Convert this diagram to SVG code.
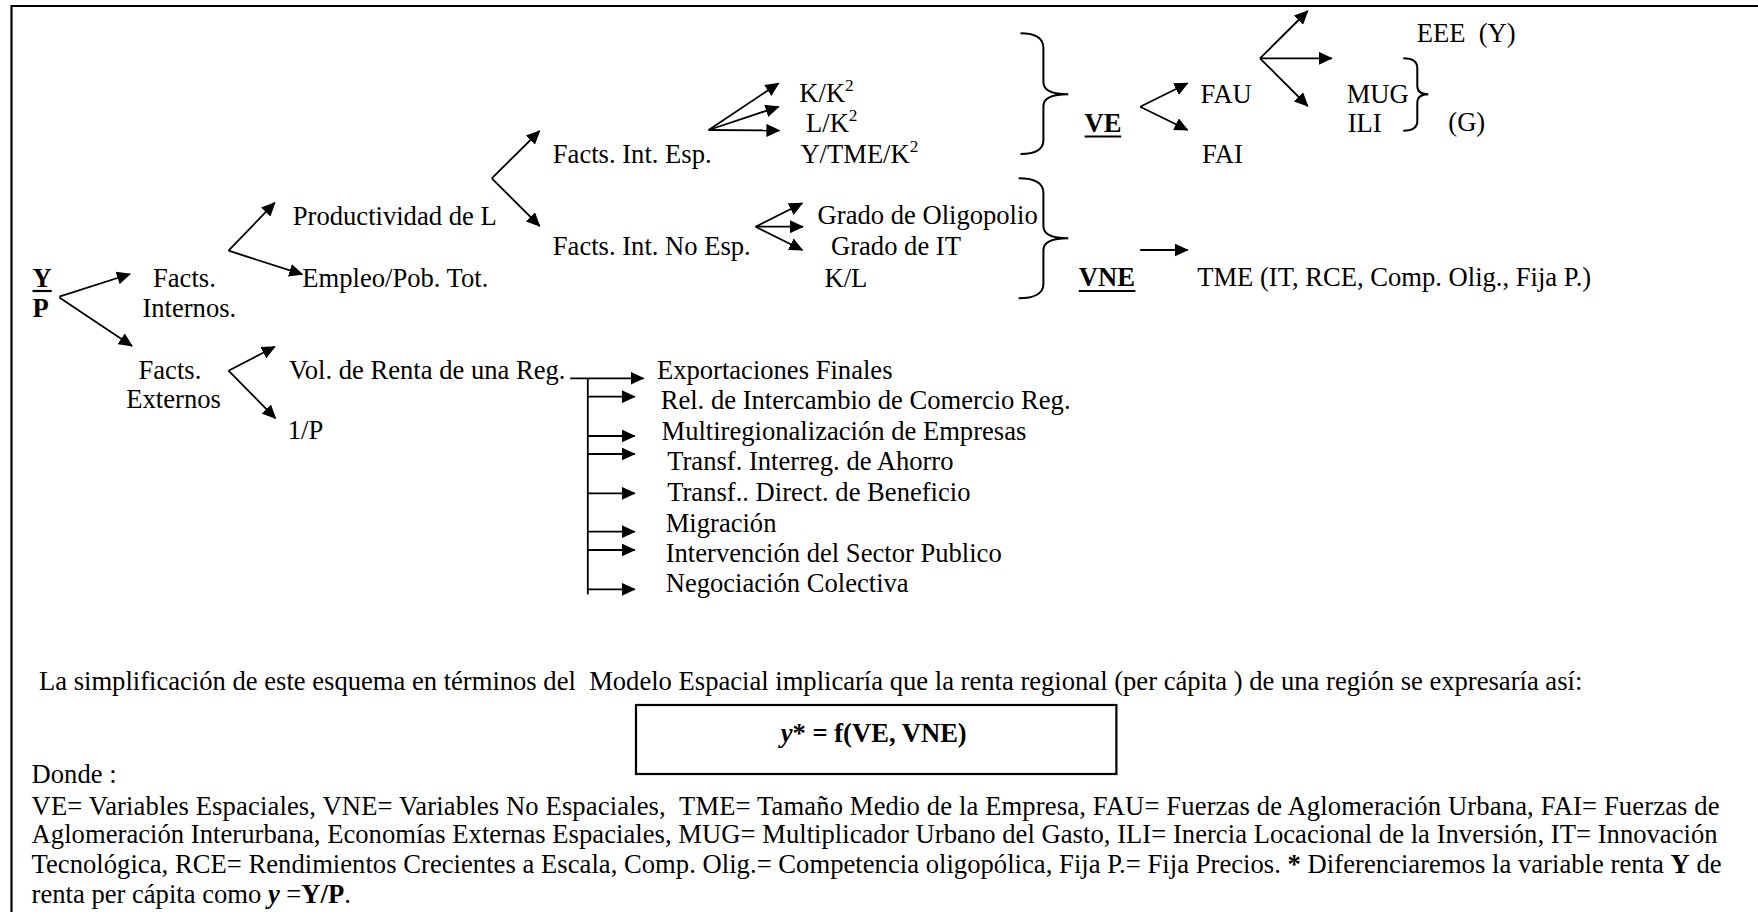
<svg xmlns="http://www.w3.org/2000/svg" width="1758" height="912" viewBox="0 0 1758 912">
<style>
text{font-family:"Liberation Serif","Times New Roman",serif;font-size:26.6px;fill:#000}
.b{font-weight:bold}
.bi{font-weight:bold;font-style:italic}
.sup{font-size:17.3px}
.c line,.c path{stroke:#000;stroke-width:1.8;fill:none}
.arr{marker-end:url(#ah)}
.brace{stroke:#000;stroke-width:2;fill:none}
.ul{stroke:#000;stroke-width:2.2}
</style>
<defs>
<marker id="ah" viewBox="0 0 14 13" refX="13" refY="6.5" markerWidth="14" markerHeight="13" markerUnits="userSpaceOnUse" orient="auto"><path d="M0,0 L14,6.5 L0,13 z" fill="#000"/></marker>
</defs>
<rect x="0" y="0" width="1758" height="912" fill="#fff"/>
<path d="M11.5,912 V6 H1758" stroke="#000" stroke-width="2.2" fill="none"/>

<g id="n-yp"><text class="b" x="32.5" y="287.3">Y</text><line class="ul" x1="32.5" y1="291" x2="51.7" y2="291"/><text class="b" x="32.5" y="316.7">P</text></g>
<g id="n-internos"><text x="153" y="287.3">Facts.</text><text x="142.4" y="316.7">Internos.</text></g>
<g id="n-externos"><text x="138.5" y="379.3">Facts.</text><text x="126.3" y="408.3">Externos</text></g>
<g id="n-prod"><text x="292.8" y="225">Productividad de L</text></g>
<g id="n-empleo"><text x="302.3" y="287.3">Empleo/Pob. Tot.</text></g>
<g id="n-fie"><text x="552.8" y="163.3">Facts. Int. Esp.</text></g>
<g id="n-fine"><text x="552.8" y="255">Facts. Int. No Esp.</text></g>
<g id="n-kk"><text x="799.3" y="101.7">K/K<tspan class="sup" dy="-11">2</tspan></text></g>
<g id="n-lk"><text x="806" y="132.3">L/K<tspan class="sup" dy="-11">2</tspan></text></g>
<g id="n-ytme"><text x="800.4" y="163.3">Y/TME/K<tspan class="sup" dy="-11">2</tspan></text></g>
<g id="n-oligo"><text x="817.6" y="224">Grado de Oligopolio</text></g>
<g id="n-it"><text x="831" y="255">Grado de IT</text></g>
<g id="n-kl"><text x="824.5" y="286.7">K/L</text></g>
<g id="n-ve"><text class="b" x="1084.6" y="131.7">VE</text><line class="ul" x1="1084.6" y1="136.5" x2="1121.2" y2="136.5"/></g>
<g id="n-vne"><text class="b" x="1078.8" y="286">VNE</text><line class="ul" x1="1078.8" y1="291" x2="1135.4" y2="291"/></g>
<g id="n-fau"><text x="1200.6" y="102.7">FAU</text></g>
<g id="n-fai"><text x="1202" y="163.3">FAI</text></g>
<g id="n-eee"><text x="1416.7" y="41.7" xml:space="preserve">EEE  (Y)</text></g>
<g id="n-mug"><text x="1346.7" y="102.7">MUG</text></g>
<g id="n-ili"><text x="1347.7" y="131.7">ILI</text></g>
<g id="n-g"><text x="1448.3" y="131">(G)</text></g>
<g id="n-tme"><text x="1197.2" y="286">TME (IT, RCE, Comp. Olig., Fija P.)</text></g>
<g id="n-vol"><text x="289" y="379.3">Vol. de Renta de una Reg.</text></g>
<g id="n-1p"><text x="287.8" y="439.3">1/P</text></g>
<g id="n-list">
<text x="656.9" y="379.3">Exportaciones Finales</text>
<text x="660.7" y="409">Rel. de Intercambio de Comercio Reg.</text>
<text x="661.5" y="440">Multiregionalización de Empresas</text>
<text x="667.2" y="470">Transf. Interreg. de Ahorro</text>
<text x="667.2" y="501">Transf.. Direct. de Beneficio</text>
<text x="665.7" y="531.7">Migración</text>
<text x="665.7" y="561.7">Intervención del Sector Publico</text>
<text x="665.7" y="592.3">Negociación Colectiva</text>
</g>

<g id="braces">
<path class="brace" d="M1020.5,33.3 C1034,33.3 1043.4,37 1043.4,48 V82 C1043.4,90 1052,94.3 1068.3,94.3 C1052,94.3 1043.4,98 1043.4,106 V140 C1043.4,150 1034,154 1020.5,154"/>
<path class="brace" d="M1018.6,178.3 C1033,178.3 1043.4,182 1043.4,193 V226 C1043.4,234 1052,238.3 1068.3,238.3 C1052,238.3 1043.4,242 1043.4,250 V284 C1043.4,294 1033,298.3 1018.6,298.3"/>
<path class="brace" d="M1403.3,58.3 C1411,58.3 1417.3,61 1417.3,68 V86 C1417.3,91 1421,94.3 1428.3,94.3 C1421,94.3 1417.3,97 1417.3,103 V121 C1417.3,128 1411,130.7 1403.3,130.7"/>
</g>

<g id="connectors" class="c">
<line class="arr" x1="59.3" y1="296.7" x2="130" y2="274"/>
<line class="arr" x1="59.3" y1="297.5" x2="132" y2="346"/>
<line class="arr" x1="228.5" y1="250.7" x2="274.8" y2="202.7"/>
<line class="arr" x1="228.5" y1="250.7" x2="302.3" y2="274.3"/>
<line class="arr" x1="491.8" y1="178.3" x2="539.6" y2="131"/>
<line class="arr" x1="491.8" y1="178.3" x2="539.6" y2="226"/>
<line class="arr" x1="708.6" y1="130" x2="778.6" y2="83.3"/>
<line class="arr" x1="708.6" y1="130" x2="778.6" y2="106.7"/>
<line class="arr" x1="708.6" y1="130" x2="779.4" y2="130.5"/>
<line class="arr" x1="755.6" y1="226.7" x2="802.3" y2="203.3"/>
<line class="arr" x1="755.6" y1="226.7" x2="803" y2="226.7"/>
<line class="arr" x1="755.6" y1="226.7" x2="802.3" y2="250"/>
<line class="arr" x1="1140.2" y1="106.7" x2="1187.6" y2="83.3"/>
<line class="arr" x1="1140.2" y1="106.7" x2="1187.6" y2="130"/>
<line class="arr" x1="1260" y1="58.3" x2="1307.7" y2="11"/>
<line class="arr" x1="1260" y1="58.3" x2="1331.7" y2="58.3"/>
<line class="arr" x1="1260" y1="58.3" x2="1307.7" y2="106"/>
<line class="arr" x1="1140.2" y1="250" x2="1187.6" y2="250"/>
<line class="arr" x1="228.5" y1="370.7" x2="274.8" y2="346.7"/>
<line class="arr" x1="228.5" y1="370.7" x2="275.5" y2="418.3"/>
<line class="arr" x1="570.2" y1="378.3" x2="643.5" y2="378.3"/>
<line x1="587.8" y1="378.3" x2="587.8" y2="594.5"/>
<line class="arr" x1="587.8" y1="396.7" x2="634.7" y2="396.7"/>
<line class="arr" x1="587.8" y1="436" x2="634.7" y2="436"/>
<line class="arr" x1="587.8" y1="454" x2="634.7" y2="454"/>
<line class="arr" x1="587.8" y1="493.3" x2="634.7" y2="493.3"/>
<line class="arr" x1="587.8" y1="531.7" x2="634.7" y2="531.7"/>
<line class="arr" x1="587.8" y1="550" x2="634.7" y2="550"/>
<line class="arr" x1="587.8" y1="589.3" x2="634.7" y2="589.3"/>
</g>

<g id="notes">
<text x="39" y="690" xml:space="preserve">La simplificación de este esquema en términos del  Modelo Espacial implicaría que la renta regional (per cápita ) de una región se expresaría así:</text>
<rect x="636" y="705" width="480.4" height="69" fill="none" stroke="#000" stroke-width="2.2"/>
<text class="b" x="780.7" y="741.7"><tspan class="bi">y</tspan>* = f(VE, VNE)</text>
<text x="31.6" y="783.3">Donde :</text>
<text x="31.6" y="815" xml:space="preserve" textLength="1688" lengthAdjust="spacing">VE= Variables Espaciales, VNE= Variables No Espaciales,  TME= Tamaño Medio de la Empresa, FAU= Fuerzas de Aglomeración Urbana, FAI= Fuerzas de</text>
<text x="31.6" y="843.3" textLength="1686" lengthAdjust="spacing">Aglomeración Interurbana, Economías Externas Espaciales, MUG= Multiplicador Urbano del Gasto, ILI= Inercia Locacional de la Inversión, IT= Innovación</text>
<text x="31.6" y="873.3" xml:space="preserve" textLength="1690" lengthAdjust="spacing">Tecnológica, RCE= Rendimientos Crecientes a Escala, Comp. Olig.= Competencia oligopólica, Fija P.= Fija Precios. <tspan class="b">*</tspan> Diferenciaremos la variable renta <tspan class="b">Y</tspan> de</text>
<text x="31.6" y="903.3" xml:space="preserve">renta per cápita como <tspan class="bi">y</tspan> =<tspan class="b">Y/P</tspan>.</text>
</g>
</svg>
